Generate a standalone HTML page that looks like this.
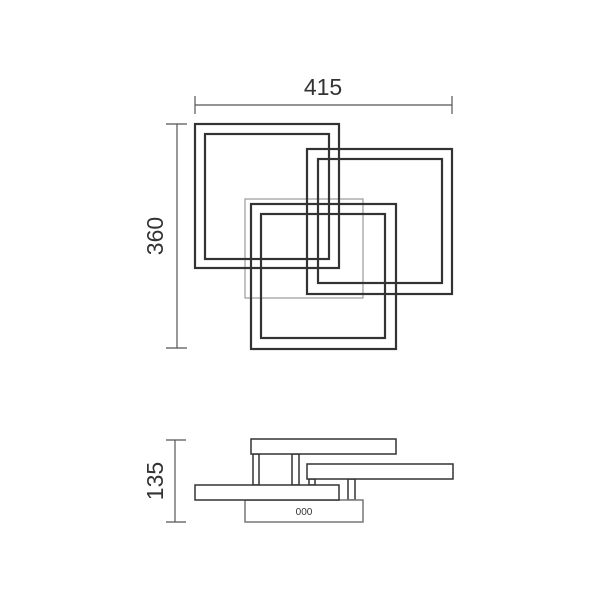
<!DOCTYPE html>
<html><head><style>body{margin:0;background:#fff}svg{display:block}</style></head><body>
<svg width="600" height="600" viewBox="0 0 600 600" xmlns="http://www.w3.org/2000/svg" font-family="Liberation Sans, sans-serif">
<g stroke="#555" stroke-width="1.2" fill="none">
<line x1="195" y1="105" x2="452" y2="105"/><line x1="195" y1="96" x2="195" y2="114"/><line x1="452" y1="96" x2="452" y2="114"/>
<line x1="177" y1="124" x2="177" y2="348"/><line x1="166" y1="124" x2="187" y2="124"/><line x1="166" y1="348" x2="187" y2="348"/>
<line x1="175" y1="440" x2="175" y2="522"/><line x1="166" y1="440" x2="186" y2="440"/><line x1="166" y1="522" x2="186" y2="522"/>
</g>
<text x="323" y="95" font-size="23" text-anchor="middle" fill="#333">415</text>
<text transform="translate(163,236) rotate(-90)" font-size="23" text-anchor="middle" fill="#333">360</text>
<text transform="translate(163,481) rotate(-90)" font-size="23" text-anchor="middle" fill="#333">135</text>
<rect x="245" y="199" width="118" height="99" fill="none" stroke="#999" stroke-width="1.2"/>
<g fill="none" stroke="#333" stroke-width="2.2">
<rect x="195" y="124" width="144" height="144"/><rect x="205" y="134" width="124" height="125"/>
<rect x="307" y="149" width="145" height="145"/><rect x="318" y="159" width="124" height="124"/>
<rect x="251" y="204" width="145" height="145"/><rect x="261" y="214" width="124" height="124"/>
</g>
<g fill="#fff" stroke="#333" stroke-width="1.5">
<rect x="253" y="454" width="6" height="31"/><rect x="292" y="454" width="7" height="31"/>
<rect x="309" y="479" width="6" height="6"/><rect x="348" y="479" width="7" height="21"/>
<rect x="251" y="439" width="145" height="15"/>
<rect x="307" y="464" width="146" height="15"/>
<rect x="245" y="500" width="118" height="22" stroke="#777"/>
<rect x="195" y="485" width="144" height="15"/>
</g>
<text x="304" y="515" font-size="10" text-anchor="middle" fill="#333">000</text>
</svg>
</body></html>
